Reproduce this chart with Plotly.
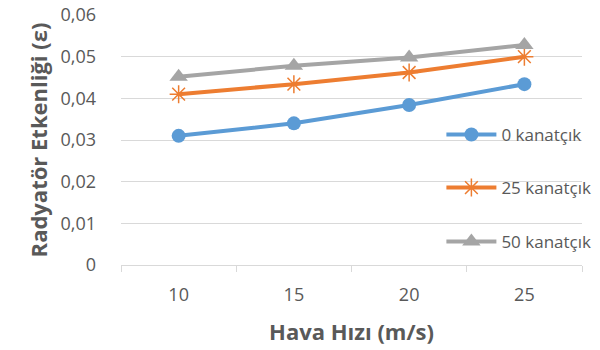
import plotly.graph_objects as go

# Air speed categories (m/s)
hava_hizi = ["10", "15", "20", "25"]

# Radiator effectiveness per fin count
etkinlik_0 = [0.031, 0.034, 0.0384, 0.0434]
etkinlik_25 = [0.041, 0.0434, 0.0462, 0.050]
etkinlik_50 = [0.0452, 0.0478, 0.0498, 0.0528]

seri_adlari = ["0 kanatçık", "25 kanatçık", "50 kanatçık"]

y_ticks = [0, 0.01, 0.02, 0.03, 0.04, 0.05, 0.06]
y_tick_text = ["0", "0,01", "0,02", "0,03", "0,04", "0,05", "0,06"]

gray_text = "#595959"
font_family = "Open Sans, Liberation Sans, sans-serif"

fig = go.Figure()

fig.add_trace(go.Scatter(
    x=hava_hizi, y=etkinlik_0, name=seri_adlari[0], mode="lines+markers",
    line=dict(color="#5B9BD5", width=4),
    marker=dict(symbol="circle", size=14, color="#5B9BD5"),
    legend="legend", showlegend=True,
))
fig.add_trace(go.Scatter(
    x=hava_hizi, y=etkinlik_25, name=seri_adlari[1], mode="lines+markers",
    line=dict(color="#ED7D31", width=4),
    marker=dict(symbol="asterisk-open", size=15, color="#ED7D31",
                line=dict(color="#ED7D31", width=1.5)),
    legend="legend2", showlegend=True,
))
fig.add_trace(go.Scatter(
    x=hava_hizi, y=etkinlik_50, name=seri_adlari[2], mode="lines+markers",
    line=dict(color="#A5A5A5", width=4),
    marker=dict(symbol="triangle-up", size=16, color="#A5A5A5"),
    legend="legend3", showlegend=True,
))

legend_common = dict(
    xanchor="left", yanchor="middle", bgcolor="rgba(0,0,0,0)",
    font=dict(family=font_family, size=17, color=gray_text),
    itemwidth=50, borderwidth=0,
)

fig.update_layout(
    width=600, height=350,
    margin=dict(l=121, r=18, t=15, b=85, autoexpand=False),
    paper_bgcolor="white", plot_bgcolor="white",
    showlegend=True,
    font=dict(family=font_family, size=17, color=gray_text),
    legend=dict(x=0.695, y=0.52, **legend_common),
    legend2=dict(x=0.695, y=0.308, **legend_common),
    legend3=dict(x=0.695, y=0.092, **legend_common),
    xaxis=dict(
        type="category", range=[-0.5, 3.5], showgrid=False, showline=True,
        linecolor="#D9D9D9", linewidth=1, ticks="outside", tickson="boundaries",
        ticklen=6, tickcolor="#D9D9D9", tickfont=dict(size=18, color=gray_text),
        ticklabelstandoff=13,
        title=dict(text="<b>Hava Hızı (m/s)</b>", font=dict(size=22, color=gray_text),
                   standoff=20),
        fixedrange=True,
    ),
    yaxis=dict(
        range=[0, 0.06], tickvals=y_ticks, ticktext=y_tick_text,
        showgrid=True, gridcolor="#D9D9D9", gridwidth=1,
        zeroline=False, showline=False, ticks="",
        tickfont=dict(size=18, color=gray_text), ticklabelstandoff=24,
        title=dict(text="<b>Radyatör Etkenliği (ε)</b>", font=dict(size=22, color=gray_text),
                   standoff=6),
        fixedrange=True,
    ),
)

fig.write_html("out.html")
